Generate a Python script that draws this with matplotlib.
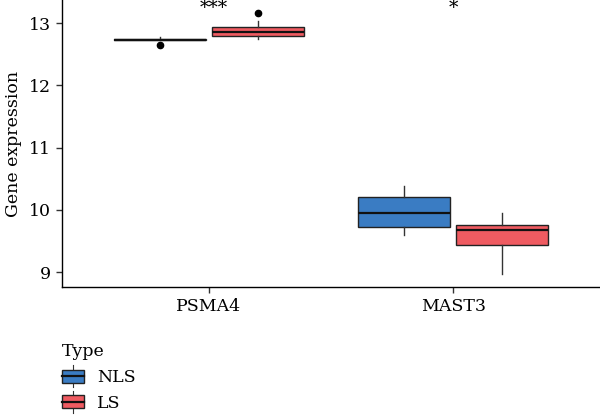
import matplotlib
matplotlib.use("Agg")
import matplotlib.pyplot as plt
from matplotlib.legend_handler import HandlerBase
from matplotlib.patches import Rectangle
from matplotlib.lines import Line2D

plt.rcParams['font.family'] = ['DejaVu Serif']

genes = ["PSMA4", "MAST3"]
groups = ["NLS", "LS"]
colors = ["#3a7cc3", "#ef5b61"]
signif = ["***", "*"]

# box statistics per group, in the order of genes
nls_whislo = [12.72, 9.59]
nls_q1 = [12.72, 9.72]
nls_med = [12.73, 9.955]
nls_q3 = [12.74, 10.20]
nls_whishi = [12.78, 10.38]
nls_fliers = [[12.65], []]

ls_whislo = [12.74, 8.97]
ls_q1 = [12.79, 9.43]
ls_med = [12.86, 9.67]
ls_q3 = [12.93, 9.75]
ls_whishi = [13.03, 9.95]
ls_fliers = [[13.16], []]


def make_stats(lo, q1, med, q3, hi, fl):
    return [dict(whislo=lo[i], q1=q1[i], med=med[i], q3=q3[i], whishi=hi[i],
                 fliers=fl[i]) for i in range(len(lo))]


stats = [make_stats(nls_whislo, nls_q1, nls_med, nls_q3, nls_whishi, nls_fliers),
         make_stats(ls_whislo, ls_q1, ls_med, ls_q3, ls_whishi, ls_fliers)]

fig = plt.figure(figsize=(6, 4.15), dpi=100)
ax = fig.add_axes([62 / 600, 128 / 415, 538 / 600, 287 / 415])

offsets = [-0.2, 0.2]
for g in range(2):
    pos = [i + 1 + offsets[g] for i in range(len(genes))]
    ax.bxp(stats[g], positions=pos, widths=0.376, patch_artist=True,
           showcaps=False,
           boxprops=dict(facecolor=colors[g], edgecolor="#222222", linewidth=1.0),
           medianprops=dict(color="#111111", linewidth=1.6),
           whiskerprops=dict(color="#333333", linewidth=1.0),
           flierprops=dict(marker="o", markerfacecolor="black",
                           markeredgecolor="black", markersize=4.5))

for i, s in enumerate(signif):
    ax.text(i + 1.02 - 0.02 * i, 13.38, s, ha="center", va="top", fontsize=13.5)

ax.set_xlim(0.4, 2.6)
ax.set_ylim(8.76, 13.37)
ax.set_xticks([1, 2])
ax.set_xticklabels(genes)
ax.set_yticks([9, 10, 11, 12, 13])
ax.set_ylabel("Gene expression", fontsize=12.5, labelpad=5)
ax.tick_params(labelsize=12.5, length=4, width=1.0, color="#333333", pad=4)
for side in ["top", "right"]:
    ax.spines[side].set_visible(False)
for side in ["left", "bottom"]:
    ax.spines[side].set_linewidth(1.0)


class BoxHandler(HandlerBase):
    def __init__(self, color):
        super().__init__()
        self.color = color

    def create_artists(self, legend, orig_handle, xdescent, ydescent, width,
                       height, fontsize, trans):
        cx = width / 2 - xdescent
        bh = height * 0.9
        y0 = (height - bh) / 2 - ydescent
        wl = Line2D([cx, cx], [y0 - 3, y0 + bh + 3], color="#333333", lw=0.8,
                    transform=trans)
        box = Rectangle((-xdescent, y0), width, bh, facecolor=self.color,
                        edgecolor="#222222", lw=1.0, transform=trans)
        med = Line2D([-xdescent, width - xdescent], [y0 + bh / 2, y0 + bh / 2],
                     color="#111111", lw=1.6, transform=trans)
        return [wl, box, med]


handles = [Rectangle((0, 0), 1, 1) for _ in groups]
leg = fig.legend(handles, groups, loc="upper left",
                 bbox_to_anchor=(50 / 600, 1 - 331 / 415),
                 title="Type", title_fontsize=12.5, fontsize=12.5, frameon=False,
                 handlelength=1.25, handleheight=0.9, handletextpad=0.75,
                 labelspacing=0.5, borderaxespad=0.3,
                 handler_map={h: BoxHandler(c) for h, c in zip(handles, colors)})
leg._legend_box.align = "left"

fig.savefig("out.png", dpi=100)
